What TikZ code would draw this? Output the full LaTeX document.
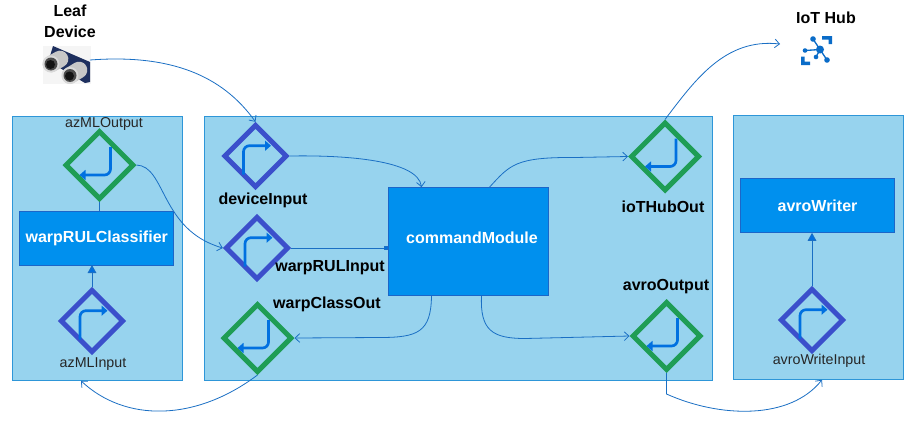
\documentclass[tikz,border=0pt]{standalone}
\usepackage{fontspec}
\setmainfont{Liberation Sans}
\usetikzlibrary{shapes.geometric,arrows.meta,positioning}
\definecolor{panelfill}{HTML}{97D3EE}
\definecolor{paneledge}{HTML}{2E96D8}
\definecolor{boxfill}{HTML}{0090EE}
\definecolor{boxedge}{HTML}{1C66C8}
\definecolor{outgreen}{HTML}{1F9D55}
\definecolor{inblue}{HTML}{3B4FCB}
\definecolor{wire}{HTML}{1A6FC4}
\definecolor{bend}{HTML}{0070E0}
\definecolor{hubblue}{HTML}{0A6CC8}
\definecolor{board}{HTML}{1E2F5E}
\tikzset{
  panel/.style={draw=paneledge,fill=panelfill,line width=.75pt,inner sep=0pt,outer sep=0pt},
  modbox/.style={draw=boxedge,fill=boxfill,line width=.75pt,inner sep=0pt,outer sep=0pt,text=white,font=\fontsize{12}{14}\selectfont\bfseries},
  inport/.style={diamond,draw=inblue,line width=3.75pt,line join=miter,inner sep=0pt,minimum width=47.5pt,minimum height=47.5pt},
  outport/.style={diamond,draw=outgreen,line width=3.75pt,line join=miter,inner sep=0pt,minimum width=51.75pt,minimum height=51.75pt},
  blab/.style={font=\fontsize{12}{14}\selectfont\bfseries,text=black,inner sep=0pt},
  rlab/.style={font=\fontsize{10.7}{13}\selectfont,text=black!85,inner sep=0pt},
  wireplain/.style={draw=wire,line width=.6pt},
  wirecurve/.style={draw=wire,line width=.6pt,-{Straight Barb[length=3.5pt,width=6.5pt]}},
  wirefill/.style={draw=wire,line width=.6pt,-{Triangle[length=6pt,width=6.5pt,fill=bend]}},
  wireblob/.style={draw=wire,line width=.75pt,-{Square[length=3pt,width=3.5pt,fill=bend]}},
  bendarrow/.style={draw=bend,line width=2pt,rounded corners=4.5pt,-{Triangle[length=4.5pt,width=7.5pt]}}
}
\newcommand{\inglyph}[1]{\draw[bendarrow] ([shift={(-12,18.5)}]#1.center) -- ([shift={(-12,-10.3)}]#1.center) -- ([shift={(15.5,-10.3)}]#1.center);}
\newcommand{\outglyph}[1]{\draw[bendarrow] ([shift={(11,-18)}]#1.center) -- ([shift={(11,10)}]#1.center) -- ([shift={(-20,10)}]#1.center);}
\begin{document}
\begin{tikzpicture}[x=0.75pt,y=-0.75pt]
\useasboundingbox (0,0) rectangle (912,421);
\fill[white] (0,0) rectangle (912,421);
% panels
\node[panel,minimum width=127.5pt,minimum height=198.5pt] (leftp) at (97.75,248.5) {};
\node[panel,minimum width=381.5pt,minimum height=198pt] (midp) at (458.5,248) {};
\node[panel,minimum width=127.5pt,minimum height=198pt] (rightp) at (818.25,247.75) {};
% modules
\node[modbox,minimum width=115.5pt,minimum height=40.5pt] (classifier) at (96.75,238) {warpRULClassifier};
\node[modbox,minimum width=120.5pt,minimum height=81.5pt] (command) at (468.5,241.5) {};
\node[modbox,minimum width=115.5pt,minimum height=41pt] (writer) at (817.5,205.5) {avroWriter};
\node[text=white,font=\fontsize{12}{14}\selectfont\bfseries,inner sep=0pt] (commandtext) at (472,238) {commandModule};
% ports
\node[outport] (azout) at (99.5,165) {};
\node[inport] (azin) at (92,321) {};
\node[inport] (devin) at (255.5,156) {};
\node[inport] (rulin) at (257,248) {};
\node[outport] (classout) at (257.5,338) {};
\node[outport] (hubout) at (665,156.5) {};
\node[outport] (avroout) at (666.5,336) {};
\node[inport] (writein) at (812,320) {};
\inglyph{azin}\inglyph{devin}\inglyph{rulin}\inglyph{writein}
\outglyph{azout}\outglyph{classout}\outglyph{hubout}\outglyph{avroout}
% labels
\node[blab] (leaf1) at (70,11) {Leaf};
\node[blab] (leaf2) at (70,32) {Device};
\node[blab] (hublab) at (826,18) {IoT Hub};
\node[rlab] (l1) at (104,124) {azMLOutput};
\node[rlab] (l2) at (93,364) {azMLInput};
\node[blab] (l3) at (263,200) {deviceInput};
\node[blab] (l4) at (330,268) {warpRULInput};
\node[blab] (l5) at (327,304) {warpClassOut};
\node[blab] (l6) at (663,207) {ioTHubOut};
\node[blab] (l7) at (666,287) {avroOutput};
\node[rlab] (l8) at (819,361) {avroWriteInput};
% sensor
\fill[black!4] (43,46) rectangle (91,84);
\fill[board] (53,46) -- (90,62) -- (90,82) -- (85,83) -- (60,68) -- (50,56) -- cycle;
\foreach \fx/\fy/\bx/\by in {51/64/60/59, 70/75.5/79/70}{
  \draw[black!22,line width=12.5pt,line cap=round] (\fx,\fy) -- (\bx,\by);
  \fill[black!15] (\fx,\fy) circle[radius=8.5];
  \fill[black!70] (\fx,\fy) circle[radius=6.5];
  \fill[black!92] (\fx-.5,\fy+.5) circle[radius=4.5];
}
\coordinate (sensor) at (90,60);
% IoT hub icon
\coordinate (hub) at (780,44);
\begin{scope}[hubblue]
  \fill (822,36) -- (832,36) -- (832,44) -- (828.5,44) -- (828.5,39.5) -- (822,39.5) -- cycle;
  \fill (801,56.5) -- (804.5,56.5) -- (804.5,61.5) -- (810,61.5) -- (810,65) -- (801,65) -- cycle;
  \draw[line width=1pt] (813,39) -- (820,49.5) -- (805,50.5) (816,57) -- (820,49.5) -- (827,60);
  \fill (820,49.5) circle[radius=4];
  \fill (813,39) circle[radius=2.8];
  \fill (805,50.5) circle[radius=2.3];
  \fill (816,57) circle[radius=2.3];
  \fill (827,60) circle[radius=2.8];
\end{scope}
% connectors
\draw[wirecurve] (sensor) .. controls (170,54) and (222,75) .. (devin.north);
\draw[wirecurve] (azout.east) .. controls (166,166) and (160,230) .. (rulin.west);
\draw[wirefill] (azin.north) -- (azin.north |- classifier.south);
\draw[wireplain] (azout.south) -- (azout.south |- classifier.north);
\draw[wirecurve] (devin.east) .. controls (345,155) and (418,160) .. ([xshift=-35.25pt]command.north);
\draw[wireblob] (rulin.east) -- (rulin.east -| command.west);
\draw[wirecurve] ([xshift=15.75pt]command.north) .. controls (510,165) and (515,157) .. (575,157.5) -- (hubout.west);
\draw[wirecurve] ([xshift=-27.75pt]command.south) .. controls (431,332) and (418,337.5) .. (380,337.5) -- (classout.east);
\draw[wirecurve] ([xshift=9.75pt]command.south) .. controls (480,330) and (492,338.5) .. (525,338.5) -- (avroout.west);
\draw[wirecurve] (hubout.north) .. controls (695,80) and (725,38) .. (hub);
\draw[wirecurve] (classout.south) .. controls (195,422) and (125,422) .. ([xshift=-8.25pt]azin.south |- leftp.south);
\draw[wirefill] (writein.north) -- (writein.north |- writer.south);
\draw[wirecurve] (avroout.south) -- ++(0,21) .. controls (720,418) and (790,420) .. ([xshift=7.5pt]writein.south |- rightp.south);
\end{tikzpicture}
\end{document}
